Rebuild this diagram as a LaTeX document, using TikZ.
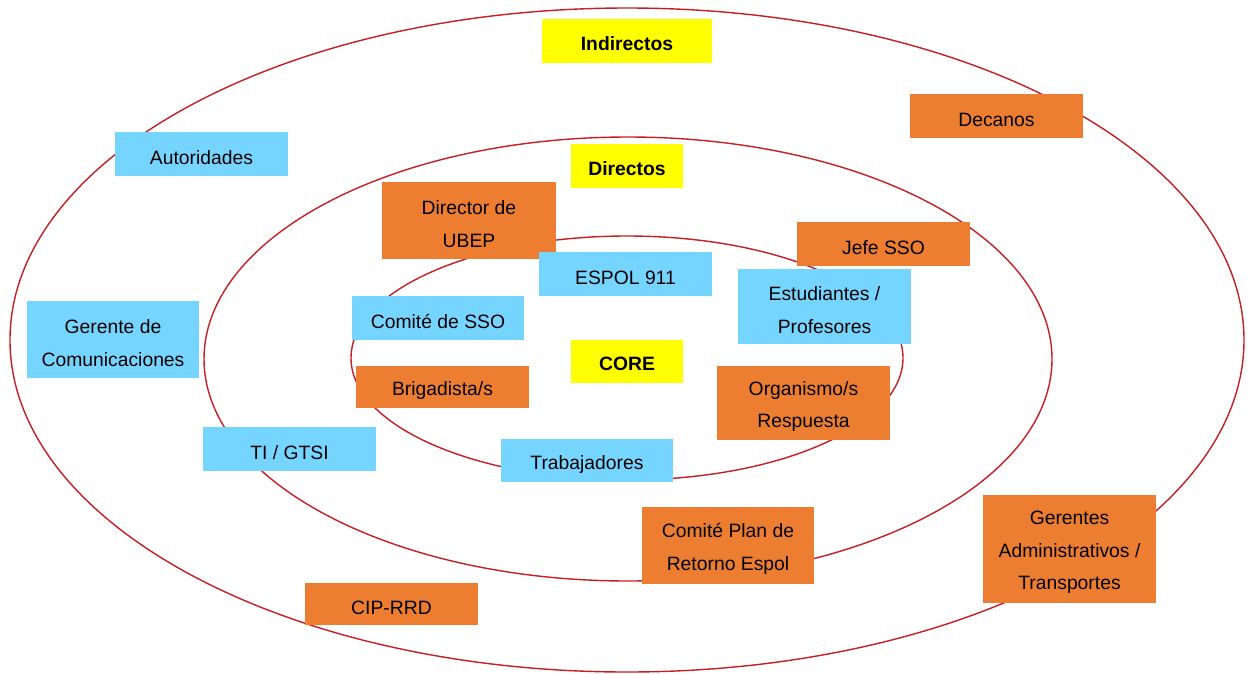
\documentclass[tikz,border=0pt]{standalone}
\usepackage{fontspec}
\setmainfont{Liberation Sans}
\definecolor{bxblue}{RGB}{117,213,255}
\definecolor{bxorange}{RGB}{237,125,49}
\definecolor{bxyellow}{RGB}{255,255,0}
\definecolor{ringred}{RGB}{200,30,35}
\begin{document}
\begin{tikzpicture}[x=0.02cm,y=-0.02cm,
  ring/.style={draw=ringred,line width=0.8pt},
  box/.style={inner sep=0pt,align=center,font=\fontsize{11}{18.6}\selectfont,text=black},
  txt/.style={label={[box,yshift=-2pt]center:#1}},
  btxt/.style={label={[box,font=\fontsize{11}{18.6}\selectfont\bfseries,yshift=-1.3pt]center:#1}},
  bluebox/.style={box,fill=bxblue},
  orangebox/.style={box,fill=bxorange},
  yellowbox/.style={box,fill=bxyellow},
  sz/.style 2 args={minimum width=#1*0.02cm,minimum height=#2*0.02cm}]
\useasboundingbox (0,0) rectangle (1253,673);
% rings
\draw[ring] (627,340) ellipse [x radius=617, y radius=332];
\draw[ring] (628,359) ellipse [x radius=424, y radius=222];
\draw[ring] (627,358) ellipse [x radius=276, y radius=122];
% labels
\node[yellowbox,sz={170}{44},btxt={Indirectos}] (indirectos) at (627,41) {};
\node[yellowbox,sz={112}{44},btxt={Directos}] (directos) at (627,166) {};
\node[yellowbox,sz={112}{43},btxt={CORE}] (core) at (627,361.5) {};
% boxes
\node[bluebox,sz={173}{44},txt={Autoridades}] (autoridades) at (201.5,154) {};
\node[orangebox,sz={173}{44},txt={Decanos}] (decanos) at (996.5,116) {};
\node[orangebox,sz={174}{77},txt={Director de\\UBEP}] (director) at (469,220.5) {};
\node[orangebox,sz={173}{44},txt={Jefe SSO}] (jefe) at (883.5,244) {};
\node[bluebox,sz={173}{44},txt={ESPOL 911}] (espol) at (625.5,274) {};
\node[bluebox,sz={173}{75},txt={Estudiantes /\\Profesores}] (estudiantes) at (824.5,306.5) {};
\node[bluebox,sz={172}{44},txt={Comité de SSO}] (comitesso) at (438,318) {};
\node[bluebox,sz={172}{77},txt={Gerente de\\Comunicaciones}] (gerente) at (113,339.5) {};
\node[orangebox,sz={173}{42},txt={Brigadista/s}] (brigadista) at (442.5,387) {};
\node[orangebox,sz={173}{74},txt={Organismo/s\\Respuesta}] (organismo) at (803.5,403) {};
\node[bluebox,sz={173}{44},txt={TI / GTSI}] (ti) at (289.5,449) {};
\node[bluebox,sz={172}{43},txt={Trabajadores}] (trabajadores) at (587,460.5) {};
\node[orangebox,sz={172}{77},txt={Comité Plan de\\Retorno Espol}] (comiteplan) at (728,545.5) {};
\node[orangebox,sz={173}{42},txt={CIP-RRD}] (cip) at (391.5,604) {};
\node[orangebox,sz={173}{108},txt={Gerentes\\Administrativos /\\Transportes}] (gerentes) at (1069.5,549) {};
\end{tikzpicture}
\end{document}
